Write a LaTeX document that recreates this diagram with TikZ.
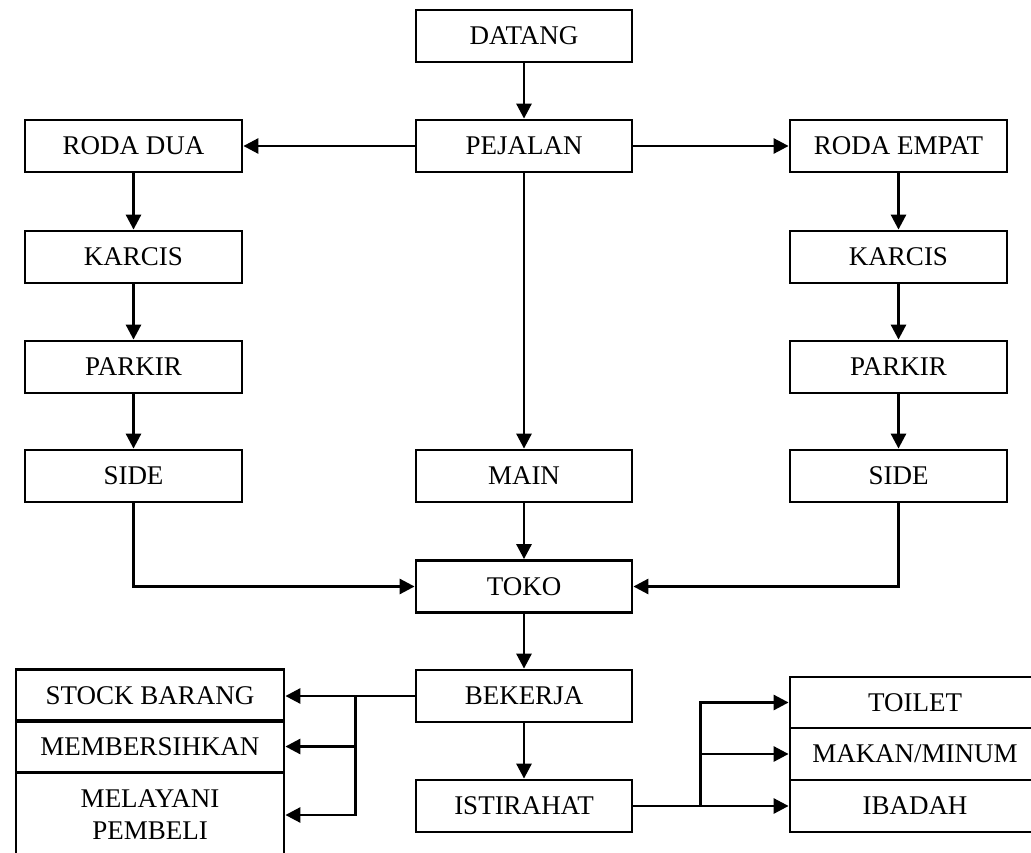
\documentclass[tikz,border=0pt]{standalone}
\usepackage{fontspec}
\setmainfont{Liberation Serif}
\usetikzlibrary{arrows.meta,calc}
\begin{document}
\begin{tikzpicture}[x=1pt,y=-1pt,
  box/.style={draw,line width=2.8pt,inner sep=0pt,minimum width=216pt,minimum height=52pt,
    font=\fontsize{27}{32}\selectfont,align=center},
  cell/.style={box,minimum width=268pt},
  rcell/.style={box,minimum width=250pt},
  link/.style={line width=2.8pt},
  arr/.style={link,-{Triangle[length=15pt,width=15pt]}}]
\clip (0,0) rectangle (1031,853);
\fill[white] (0,0) rectangle (1031,853);

% centre column
\node[box] (datang)    at (524,36)  {DATANG};
\node[box] (pejalan)   at (524,146) {PEJALAN};
\node[box] (main)      at (524,476) {MAIN};
\node[box] (toko)      at (524,586.5) {TOKO};
\node[box] (bekerja)   at (524,696) {BEKERJA};
\node[box] (istirahat) at (524,806) {ISTIRAHAT};

% two-wheel column
\node[box,minimum width=217pt] (rodadua) at (133.5,146) {RODA DUA};
\node[box,minimum width=217pt] (karcisL) at (133.5,257) {KARCIS};
\node[box,minimum width=217pt] (parkirL) at (133.5,367) {PARKIR};
\node[box,minimum width=217pt] (sideL)   at (133.5,476) {SIDE};

% four-wheel column
\node[box,minimum width=217pt] (rodaempat) at (898.5,146) {RODA EMPAT};
\node[box,minimum width=217pt] (karcisR)   at (898.5,257) {KARCIS};
\node[box,minimum width=217pt] (parkirR)   at (898.5,367) {PARKIR};
\node[box,minimum width=217pt] (sideR)     at (898.5,476) {SIDE};

% work tasks
\node[cell,minimum height=51.5pt] (stock)        at (150,695.5) {STOCK BARANG};
\node[cell,minimum height=51.5pt] (membersihkan) at (150,746.5) {MEMBERSIHKAN};
\node[cell,minimum height=86pt]   (melayani)     at (150,815)   {MELAYANI\\PEMBELI};

% break activities
\node[rcell,minimum height=51pt] (toilet) at (915,702.5) {TOILET};
\node[rcell,minimum height=52pt] (makan)  at (915,754)   {MAKAN/MINUM};
\node[rcell,minimum height=52pt] (ibadah) at (915,806)   {IBADAH};

% connectors
\draw[arr] (datang) -- (pejalan);
\draw[arr] (pejalan.west) -- (rodadua.east);
\draw[arr] (pejalan.east) -- (rodaempat.west);
\draw[arr] (pejalan) -- (main);
\draw[arr] (rodadua) -- (karcisL);
\draw[arr] (karcisL) -- (parkirL);
\draw[arr] (parkirL) -- (sideL);
\draw[arr] (rodaempat) -- (karcisR);
\draw[arr] (karcisR) -- (parkirR);
\draw[arr] (parkirR) -- (sideR);
\draw[arr] (sideL.south) |- (toko.west);
\draw[arr] (sideR.south) |- (toko.east);
\draw[arr] (main) -- (toko);
\draw[arr] (toko) -- (bekerja);
\draw[arr] (bekerja) -- (istirahat);

\coordinate (jl) at ($(bekerja.west)+(-59,0)$);
\draw[arr] (bekerja.west) -- (jl) |- (melayani.east);
\draw[arr] (jl) -- (jl -| stock.east);
\draw[arr] (jl |- membersihkan.east) -- (membersihkan.east);

\coordinate (jr) at ($(istirahat.east)+(67,0)$);
\draw[arr] (istirahat.east) -- (jr) |- (toilet.west);
\draw[arr] (jr) -- (ibadah.west);
\draw[arr] (jr |- makan.west) -- (makan.west);
\end{tikzpicture}
\end{document}
